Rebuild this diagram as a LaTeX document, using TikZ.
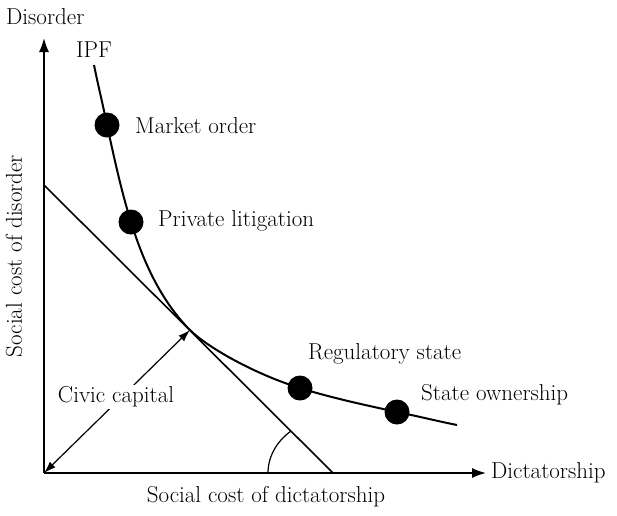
\documentclass[tikz,border=0pt]{standalone}
\usepackage{tikz}
\usetikzlibrary{shapes,positioning,calc,arrows.meta}

\begin{document}
\begin{tikzpicture}[
    x=1pt,
    y=-1pt,
    every node/.style={font=\fontsize{23}{27}\selectfont},
    dot/.style={circle,fill=black,minimum size=25pt,inner sep=0pt},
    lbl/.style={anchor=west,inner sep=0pt},
    axis/.style={line width=1.6pt,-{Latex[length=14pt,width=10pt]}}
    ]
    \useasboundingbox (0,0) rectangle (617,515);

    \coordinate (o)    at ( 44,473);
    \coordinate (ytop) at ( 44, 38);
    \coordinate (xend) at (486,473);

    % axes
    \draw[axis] (o) -- (ytop);
    \draw[axis] (o) -- (xend);
    \node[lbl] (dis) at (6,17) {Disorder};
    \node[lbl] (dic) at (491,473) {Dictatorship};
    \node (xlab) at (266,497) {Social cost of dictatorship};
    \node[rotate=90] (ylab) at (14,256) {Social cost of disorder};

    % points on the frontier
    \node[dot] (mo) at (107,125) {};
    \node[dot] (pl) at (131,222) {};
    \node[dot] (rs) at (300,388) {};
    \node[dot] (so) at (397,412) {};
    \node[lbl] (mol) at (135,126) {Market order};
    \node[lbl] (pll) at (158,221) {Private litigation};
    \node[lbl] (rsl) at (308,354) {Regulatory state};
    \node[lbl] (sol) at (421,395) {State ownership};

    % frontier
    \coordinate (c0) at ( 94, 65);
    \coordinate (tp) at (190,330);
    \coordinate (c6) at (457,425);
    \node (ipf) at (94,50) {IPF};
    \draw[line width=2pt] (c0)
        .. controls ( 98, 85) and (103,105) .. (mo.center)
        .. controls (114,157) and (121,190) .. (pl.center)
        .. controls (143,261) and (161,301) .. (tp)
        .. controls (208,348) and (257,375) .. (rs.center)
        .. controls (332,398) and (365,405) .. (so.center)
        .. controls (417,416) and (437,421) .. (c6);

    % tangent line and its angle
    \coordinate (t1) at ( 44,185);
    \coordinate (t2) at (333,473);
    \draw[line width=1.6pt] (t1) -- (t2);
    \draw[line width=1.2pt] (t2) ++(-65,0)
        arc[start angle=180,end angle=229.8,x radius=65,y radius=55];

    % civic capital
    \draw[line width=1.2pt,{Latex[length=12pt,width=8pt]}-{Latex[length=12pt,width=8pt]}]
        (o) -- (tp);
    \node[fill=white,inner sep=2pt] (cc) at (116,397) {Civic capital};
\end{tikzpicture}
\end{document}
